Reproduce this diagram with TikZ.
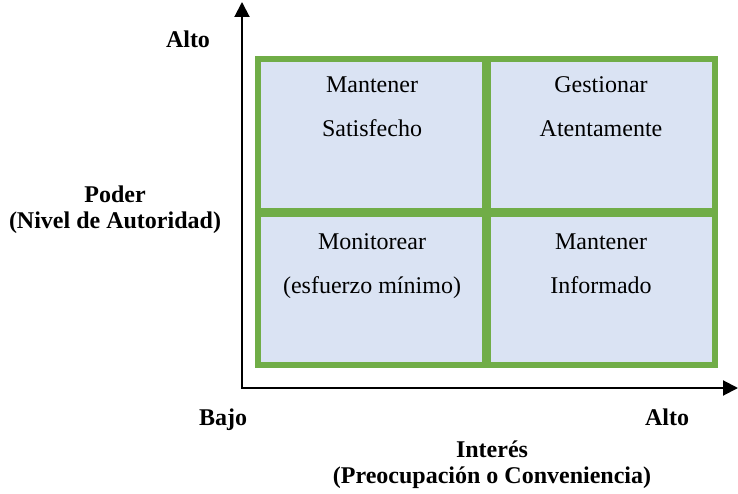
\documentclass[tikz,border=0pt]{standalone}
\usepackage{fontspec}
\setmainfont{Liberation Serif}
\usetikzlibrary{arrows.meta}
\definecolor{qfill}{HTML}{DAE3F3}
\definecolor{qgreen}{HTML}{70AD47}
\tikzset{
  axis/.style={line width=2pt, -{Triangle[length=15pt,width=15pt]}},
  qtext/.style={anchor=base, inner sep=0pt, font=\fontsize{24}{26}\selectfont},
  btext/.style={anchor=base, inner sep=0pt, font=\fontsize{24}{26}\selectfont\bfseries},
}
\begin{document}
\begin{tikzpicture}[x=1pt,y=-1pt]
\useasboundingbox (0,0) rectangle (738,494);
% quadrant grid
\fill[qfill] (258,59) rectangle (715,365);
\draw[qgreen, line width=6pt] (258,59) rectangle (715,365);
\draw[qgreen, line width=9pt] (486.5,59) -- (486.5,365);
\draw[qgreen, line width=9pt] (258,212.5) -- (715,212.5);
% axes
\coordinate (o) at (242,388);
\coordinate (ytip) at (242,2);
\coordinate (xtip) at (738,388);
\draw[axis] ([yshift=1pt]o) -- (ytip);
\draw[axis] ([xshift=-1pt]o) -- (xtip);
% quadrant labels
\node[qtext] (q1a) at (372,93) {Mantener};
\node[qtext] (q1b) at (372,137) {Satisfecho};
\node[qtext] (q2a) at (601,93) {Gestionar};
\node[qtext] (q2b) at (601,137) {Atentamente};
\node[qtext] (q3a) at (372,250) {Monitorear};
\node[qtext] (q3b) at (372,293) {(esfuerzo mínimo)};
\node[qtext] (q4a) at (601,250) {Mantener};
\node[qtext] (q4b) at (601,293) {Informado};
% axis labels
\node[btext] (yalto) at (188,48) {Alto};
\node[btext] (ylab1) at (115,203) {Poder};
\node[btext] (ylab2) at (115,229) {(Nivel de Autoridad)};
\node[btext] (xbajo) at (223,425) {Bajo};
\node[btext] (xalto) at (667,425) {Alto};
\node[btext] (xlab1) at (492,457) {Interés};
\node[btext] (xlab2) at (492,483) {(Preocupación o Conveniencia)};
\end{tikzpicture}
\end{document}
